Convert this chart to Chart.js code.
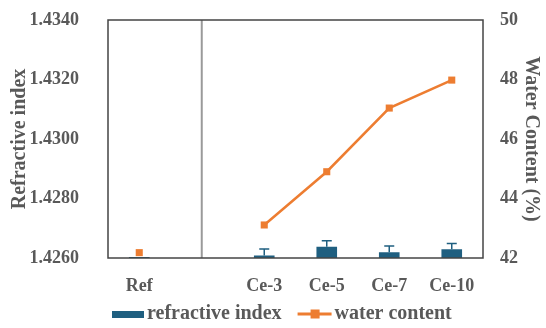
<!DOCTYPE html>
<html>
<head>
<meta charset="utf-8">
<script src="https://cdn.jsdelivr.net/npm/chart.js@4"></script>
<style>
  html, body { margin: 0; padding: 0; background: #fff; }
  #wrap { width: 546px; height: 328px; }
</style>
</head>
<body>
<div id="wrap"><canvas id="chart" width="546" height="328"></canvas></div>
<script>
// values
const categories = ['Ref', '', 'Ce-3', 'Ce-5', 'Ce-7', 'Ce-10'];
const refractiveIndex = [1.42603, null, 1.42608, 1.42638, 1.42619, 1.42629];
const refractiveErr = [0, null, 0.00022, 0.00020, 0.00021, 0.00020];
const waterContent = [42.18, null, 43.11, 44.90, 47.04, 47.98];
const leftTicks = [1.4260, 1.4280, 1.4300, 1.4320, 1.4340];
const rightTicks = [42, 44, 46, 48, 50];
const legendLabels = ['refractive index', 'water content'];

const BLUE = '#1f5f80';
const ORANGE = '#ed7d31';
const TEXT = '#595959';
const FONT = "'Liberation Serif', 'Times New Roman', serif";

function noPad(s) {
  s.paddingTop = 0; s.paddingBottom = 0; s.paddingLeft = 0; s.paddingRight = 0;
}

const framePlugin = {
  id: 'frame',
  afterDatasetsDraw(chart) {
    const ctx = chart.ctx;
    const a = chart.chartArea;
    const x = chart.scales.x;
    const y = chart.scales.y;
    const meta = chart.getDatasetMeta(1);
    ctx.save();
    // error bars
    ctx.strokeStyle = BLUE;
    ctx.lineWidth = 1.5;
    meta.data.forEach((bar, i) => {
      const v = refractiveIndex[i], e = refractiveErr[i];
      if (v == null || !e) return;
      const top = y.getPixelForValue(v + e);
      ctx.beginPath();
      ctx.moveTo(bar.x, bar.y); ctx.lineTo(bar.x, top);
      ctx.moveTo(bar.x - 5, top); ctx.lineTo(bar.x + 5, top);
      ctx.stroke();
    });
    // separator between Ref and samples
    const sx = x.getPixelForValue(1);
    ctx.strokeStyle = '#9a9a9a';
    ctx.lineWidth = 2;
    ctx.beginPath(); ctx.moveTo(sx, a.top); ctx.lineTo(sx, a.bottom); ctx.stroke();
    // plot frame
    ctx.strokeStyle = '#444';
    ctx.lineWidth = 1.5;
    ctx.strokeRect(a.left, a.top, a.right - a.left, a.bottom - a.top);
    ctx.restore();
  },
  // legend drawn by hand so the swatch shapes and gaps match
  afterDraw(chart) {
    const ctx = chart.ctx;
    const ly = 314;
    ctx.save();
    ctx.font = `bold 20px ${FONT}`;
    ctx.fillStyle = TEXT;
    ctx.textBaseline = 'middle';
    ctx.textAlign = 'left';
    let lx = 112;
    ctx.fillStyle = BLUE;
    ctx.fillRect(lx, ly - 3, 32, 7);
    ctx.fillStyle = TEXT;
    ctx.fillText(legendLabels[0], lx + 35, ly);
    lx = lx + 35 + ctx.measureText(legendLabels[0]).width + 16;
    ctx.strokeStyle = ORANGE;
    ctx.lineWidth = 3;
    ctx.beginPath(); ctx.moveTo(lx, ly); ctx.lineTo(lx + 34, ly); ctx.stroke();
    ctx.fillStyle = ORANGE;
    ctx.fillRect(lx + 13, ly - 4.5, 9, 9);
    ctx.fillStyle = TEXT;
    ctx.fillText(legendLabels[1], lx + 37, ly);
    ctx.restore();
  }
};

new Chart(document.getElementById('chart'), {
  data: {
    labels: categories,
    datasets: [
      {
        type: 'line',
        label: legendLabels[1],
        data: waterContent,
        yAxisID: 'y1',
        borderColor: ORANGE,
        backgroundColor: ORANGE,
        borderWidth: 2.5,
        pointStyle: 'rect',
        pointRadius: 5,
        pointBorderWidth: 0,
        spanGaps: false,
        order: 0
      },
      {
        type: 'bar',
        label: legendLabels[0],
        data: refractiveIndex,
        yAxisID: 'y',
        backgroundColor: BLUE,
        barPercentage: 0.55,
        categoryPercentage: 0.6,
        order: 1
      }
    ]
  },
  options: {
    responsive: false,
    animation: false,
    layout: { padding: { top: 20, left: 0, right: 0, bottom: 32 } },
    plugins: {
      tooltip: { enabled: false },
      legend: { display: false }
    },
    scales: {
      x: {
        grid: { display: false, drawTicks: false },
        border: { display: false },
        ticks: { color: TEXT, padding: 18, font: { family: FONT, size: 18, weight: 'bold' } },
        afterFit(s) { s.height = 38; noPad(s); }
      },
      y: {
        position: 'left',
        min: 1.426, max: 1.434,
        grid: { display: false },
        border: { display: false },
        afterBuildTicks(s) { s.ticks = leftTicks.map(v => ({ value: v })); },
        ticks: {
          color: TEXT, padding: 21,
          font: { family: FONT, size: 18, weight: 'bold' },
          callback: v => v.toFixed(4)
        },
        title: {
          display: true, text: 'Refractive index', color: TEXT, padding: { top: 8, bottom: 0 },
          font: { family: FONT, size: 20, weight: 'bold' }
        },
        afterFit(s) { s.width = 108; noPad(s); }
      },
      y1: {
        position: 'right',
        min: 42, max: 50,
        grid: { display: false },
        border: { display: false },
        afterBuildTicks(s) { s.ticks = rightTicks.map(v => ({ value: v })); },
        ticks: {
          color: TEXT, padding: 9,
          font: { family: FONT, size: 18, weight: 'bold' }
        },
        title: {
          display: true, text: 'Water Content (%)', color: TEXT, padding: { top: 3, bottom: 0 },
          font: { family: FONT, size: 20, weight: 'bold' }
        },
        afterFit(s) { s.width = 63; noPad(s); }
      }
    }
  },
  plugins: [framePlugin]
});
</script>
</body>
</html>
